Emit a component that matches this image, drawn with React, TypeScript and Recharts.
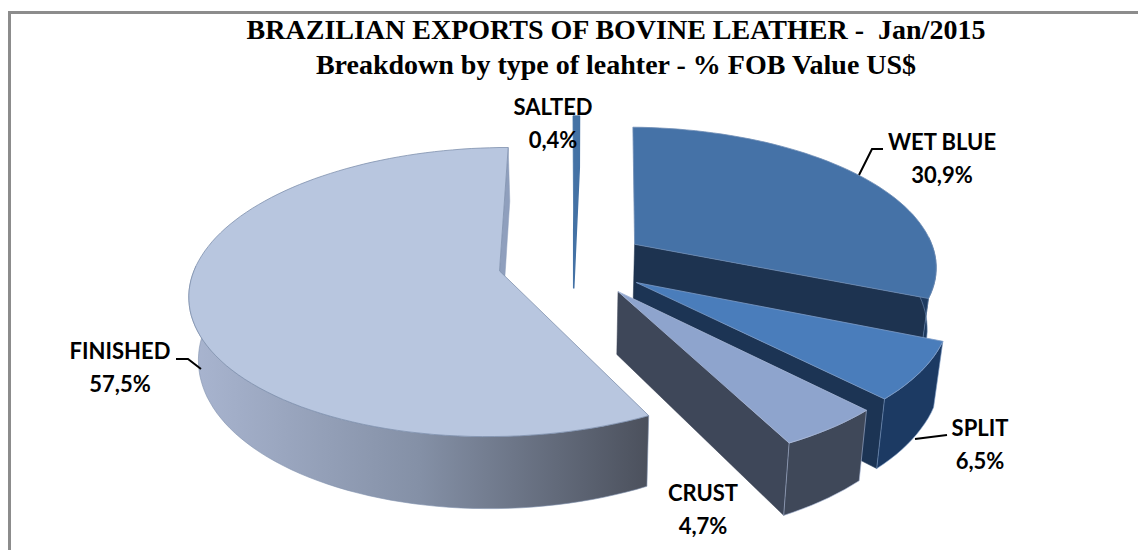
import { PieChart, Pie } from "recharts"

const categories = ["WET BLUE", "SPLIT", "CRUST", "FINISHED", "SALTED"]
const shares = [30.9, 6.5, 4.7, 57.5, 0.4]
const titleLines = [
  "BRAZILIAN EXPORTS OF BOVINE LEATHER -  Jan/2015",
  "Breakdown by type of leahter - % FOB Value US$",
]

const topColors = ["#4572a7", "#4a7dbb", "#8ea4cd", "#b8c6df", "#4472a5"]
const cutColors = ["#1d3350", "#1c3454", "#3e4759", "#8f9fbd", "#4472a5"]
const wallColors = ["#1d3a5f", "#1c3a63", "#3f4859", "url(#finishedWall)", "#4472a5"]
const edgeColors = ["#6f8db5", "#7d9cc6", "#a9b9d8", "#7f90ad", "#4472a5"]

// where the name/value text and its leader go, per slice
const labelBoxes = [
  { x: 942, y: 150, leader: "M859,175 L872,149 L883,149" },
  { x: 980, y: 436, leader: "M915,439 L947,435" },
  { x: 703, y: 501, leader: "" },
  { x: 120, y: 359, leader: "M201,369 L188,359 L176,359" },
  { x: 553, y: 115, leader: "" },
]

const EXPLODE = 75
const TILT = 0.459
const PERSPECTIVE = 0.145
const DEPTH = 61
const CONVERGE = 0.975

function slicePoint(p: any, deg: number, radius: number) {
  const mid = (((p.startAngle + p.endAngle) / 2) * Math.PI) / 180
  const a = (deg * Math.PI) / 180
  const u = EXPLODE * Math.cos(mid) + radius * Math.cos(a)
  const v = EXPLODE * Math.sin(mid) + radius * Math.sin(a)
  const s = 1 / (1 + (PERSPECTIVE * v) / p.outerRadius)
  const y = p.cy - v * TILT * s
  return {
    top: [p.cx + u * s, y],
    bottom: [p.cx + u * s * CONVERGE, y + DEPTH * s],
  }
}

function arcAngles(from: number, to: number) {
  const out: number[] = []
  const n = Math.max(2, Math.ceil(Math.abs(to - from) / 2))
  for (let i = 0; i <= n; i++) out.push(from + ((to - from) * i) / n)
  return out
}

function toPath(points: number[][]) {
  return "M" + points.map((q) => q[0].toFixed(1) + "," + q[1].toFixed(1)).join(" L") + " Z"
}

function Slice3D(p: any) {
  const i = p.index
  const R = p.outerRadius
  const apex = slicePoint(p, p.endAngle, 0)
  const corner = slicePoint(p, p.endAngle, R)
  const arc = arcAngles(p.startAngle, p.endAngle).map((d) => slicePoint(p, d, R))
  const from = Math.min(p.startAngle, 3)
  const to = Math.max(p.endAngle, -182)
  const wall = from > to ? arcAngles(from, to).map((d) => slicePoint(p, d, R)) : []
  return (
    <g>
      <path
        d={toPath([apex.top, corner.top, corner.bottom, apex.bottom])}
        fill={cutColors[i]}
        stroke={cutColors[i]}
        strokeWidth={i === 4 ? 1.5 : 0.5}
      />
      {wall.length > 0 && (
        <path
          d={toPath([...wall.map((q) => q.top), ...wall.map((q) => q.bottom).reverse()])}
          fill={wallColors[i]}
          stroke={edgeColors[i]}
          strokeWidth={0.6}
        />
      )}
      <path
        d={toPath([apex.top, ...arc.map((q) => q.top)])}
        fill={topColors[i]}
        stroke={edgeColors[i]}
        strokeWidth={0.8}
      />
    </g>
  )
}

function SliceLabel(p: any) {
  const box = labelBoxes[p.index]
  const text = String(shares[p.index]).replace(".", ",") + "%"
  return (
    <g fontFamily="Lato" fontWeight={700} fontSize={22} fill="#000" textAnchor="middle">
      {box.leader && <path d={box.leader} fill="none" stroke="#000" strokeWidth={2} />}
      <text x={box.x} y={box.y}>{categories[p.index]}</text>
      <text x={box.x} y={box.y + 33}>{text}</text>
    </g>
  )
}

export default function App() {
  const data = categories.map((name, i) => ({ name, value: shares[i] }))
  return (
    <div style={{ position: "absolute", left: 0, top: 0, width: 1138, height: 550, overflow: "hidden", background: "#fff" }}>
      <div
        style={{
          position: "absolute",
          left: 8,
          top: 11,
          width: 1130,
          height: 539,
          borderTop: "3px solid #8c8c8c",
          borderLeft: "3px solid #8c8c8c",
          boxSizing: "border-box",
        }}
      />
      <div
        style={{
          position: "absolute",
          left: 0,
          width: 1232,
          top: 12,
          textAlign: "center",
          fontFamily: "Liberation Serif",
          fontWeight: 700,
          fontSize: 28,
          lineHeight: "35px",
          color: "#000",
          whiteSpace: "pre",
        }}
      >
        {titleLines.map((t) => (
          <div key={t}>{t}</div>
        ))}
      </div>
      <div style={{ position: "absolute", left: 0, top: 0 }}>
        <PieChart width={1138} height={550} margin={{ top: 0, right: 0, bottom: 0, left: 0 }}>
          <defs>
            <linearGradient id="finishedWall" gradientUnits="userSpaceOnUse" x1="190" y1="0" x2="650" y2="0">
              <stop offset="0" stopColor="#a9b5d0" />
              <stop offset="0.5" stopColor="#8490a6" />
              <stop offset="1" stopColor="#4b505c" />
            </linearGradient>
          </defs>
          <Pie
            data={data}
            dataKey="value"
            nameKey="name"
            cx={573}
            cy={262.7}
            outerRadius={303}
            startAngle={88.7}
            endAngle={-271.3}
            stroke="none"
            isAnimationActive={false}
            shape={Slice3D}
            label={SliceLabel}
            labelLine={false}
          />
        </PieChart>
      </div>
    </div>
  )
}
